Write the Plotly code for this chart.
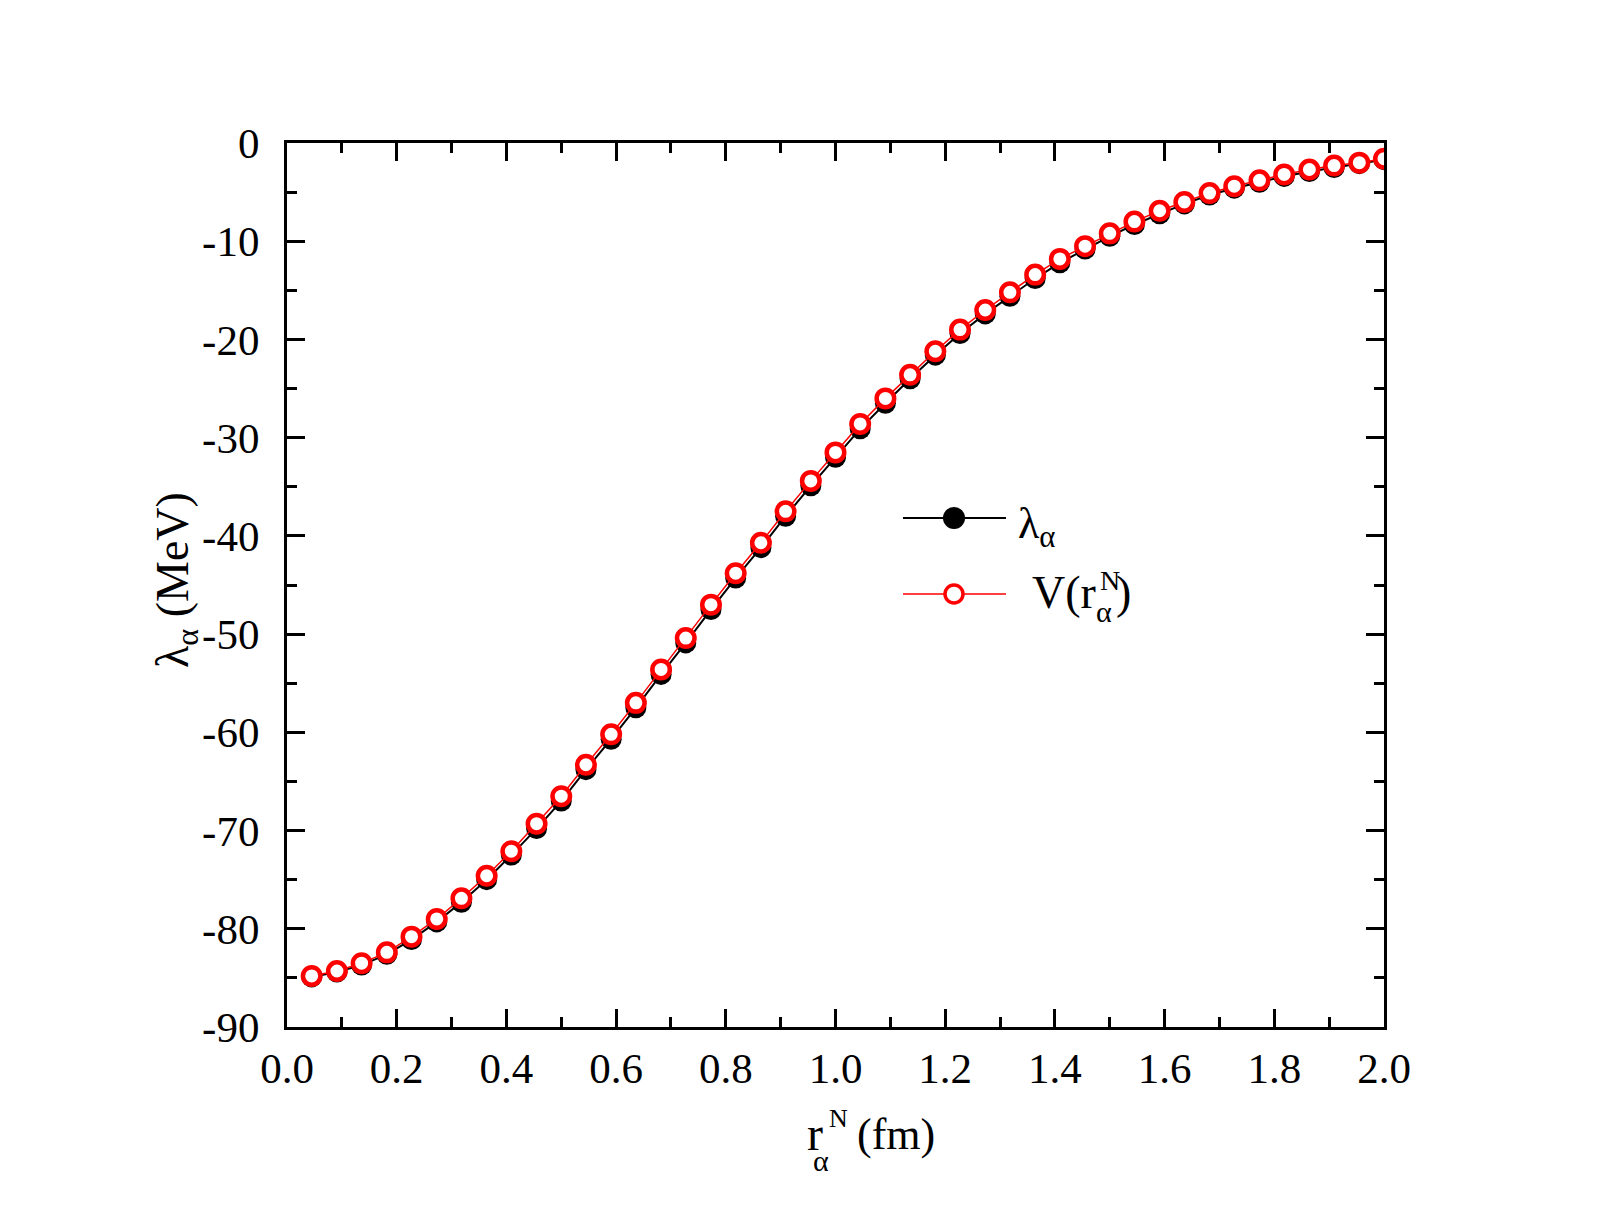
import plotly.graph_objects as go

# ---- data ----
r_alpha = [0.045, 0.091, 0.136, 0.182, 0.227, 0.273, 0.318, 0.364, 0.409, 0.455,
           0.500, 0.545, 0.591, 0.636, 0.682, 0.727, 0.773, 0.818, 0.864, 0.909,
           0.955, 1.000, 1.045, 1.091, 1.136, 1.182, 1.227, 1.273, 1.318, 1.364,
           1.409, 1.455, 1.500, 1.545, 1.591, 1.636, 1.682, 1.727, 1.773, 1.818,
           1.864, 1.909, 1.955, 2.000]
V_r = [-84.8, -84.3, -83.5, -82.4, -80.8, -79.0, -76.9, -74.6, -72.1, -69.3,
       -66.5, -63.3, -60.2, -57.0, -53.6, -50.4, -47.0, -43.8, -40.7, -37.5,
       -34.4, -31.5, -28.6, -26.0, -23.6, -21.2, -19.0, -17.0, -15.2, -13.4,
       -11.8, -10.5, -9.2, -8.0, -6.9, -6.0, -5.1, -4.4, -3.8, -3.2,
       -2.7, -2.3, -2.0, -1.6]
lambda_a = [-84.9, -84.4, -83.7, -82.6, -81.1, -79.3, -77.3, -75.0, -72.5, -69.8,
            -67.0, -63.8, -60.7, -57.5, -54.1, -50.9, -47.5, -44.3, -41.2, -38.0,
            -34.9, -32.0, -29.1, -26.5, -24.0, -21.6, -19.4, -17.4, -15.6, -13.8,
            -12.2, -10.8, -9.5, -8.3, -7.2, -6.2, -5.3, -4.6, -4.0, -3.4,
            -2.9, -2.5, -2.1, -1.7]
x_range = [0, 2]
y_range = [-90, 0]
x_tickvals = [0.0, 0.2, 0.4, 0.6, 0.8, 1.0, 1.2, 1.4, 1.6, 1.8, 2.0]
x_ticktext = ["0.0", "0.2", "0.4", "0.6", "0.8", "1.0", "1.2", "1.4", "1.6", "1.8", "2.0"]
y_tickvals = [0, -10, -20, -30, -40, -50, -60, -70, -80, -90]
y_ticktext = ["0", "-10", "-20", "-30", "-40", "-50", "-60", "-70", "-80", "-90"]

# ---- layout geometry (pixels) ----
W, H = 1609, 1232
L, R, T, B = 287, 1384, 143, 1027
FONT = "Liberation Serif, Times New Roman, serif"


def px(x):
    return (x - L) / (R - L)


def py(y):
    return (B - y) / (B - T)


fig = go.Figure()
fig.add_trace(go.Scatter(
    x=r_alpha, y=lambda_a, mode="lines+markers",
    line=dict(color="black", width=2),
    marker=dict(symbol="circle", size=21, color="black", line=dict(width=0)),
    showlegend=False))
fig.add_trace(go.Scatter(
    x=r_alpha, y=V_r, mode="lines+markers",
    line=dict(color="#ff0000", width=1.5),
    marker=dict(symbol="circle", size=17.5, color="white",
                line=dict(color="#ff0000", width=4.5)),
    showlegend=False))

axis_common = dict(
    showline=True, linecolor="black", linewidth=3, mirror="allticks",
    ticks="inside", ticklen=18, tickwidth=3, tickcolor="black",
    showgrid=False, zeroline=False,
    tickfont=dict(family=FONT, size=43, color="black"),
)
fig.update_xaxes(range=x_range, tickmode="array", tickvals=x_tickvals,
                 ticktext=x_ticktext,
                 minor=dict(ticks="inside", ticklen=10, tickwidth=3,
                            tickcolor="black", dtick=0.1, tick0=0, showgrid=False),
                 ticklabelstandoff=1, **axis_common)
fig.update_yaxes(range=y_range, tickmode="array", tickvals=y_tickvals,
                 ticktext=y_ticktext,
                 minor=dict(ticks="inside", ticklen=10, tickwidth=3,
                            tickcolor="black", dtick=5, tick0=0, showgrid=False),
                 ticklabelstandoff=16, **axis_common)

ann = []


def text(s, x, y, size, xanchor="left", yanchor="middle", angle=0):
    ann.append(dict(text=s, x=px(x), y=py(y), xref="paper", yref="paper",
                    xanchor=xanchor, yanchor=yanchor, showarrow=False,
                    textangle=angle,
                    font=dict(family=FONT, size=size, color="black")))


# x-axis title: r_alpha^N (fm)
text("r", 805, 1133, 48)
text("N", 827, 1118, 26)
text("α", 811, 1160, 30)
text("(fm)", 855, 1134, 44)

# y-axis title
text("λ<sub>α</sub> (MeV)", 176, 580, 46, xanchor="center", angle=-90)

# legend (manual)
shapes = []
leg_rows = [(518, "black", 2, "black", 0, 22), (594, "#ff0000", 1.5, "white", 3.5, 18)]
for yy, col, lw, fill, mlw, ms in leg_rows:
    shapes.append(dict(type="line", xref="paper", yref="paper",
                       x0=px(903), x1=px(1006), y0=py(yy), y1=py(yy),
                       line=dict(color=col, width=lw)))
    shapes.append(dict(type="circle", xref="paper", yref="paper",
                       xsizemode="pixel", ysizemode="pixel",
                       xanchor=px(954), yanchor=py(yy),
                       x0=-ms / 2, x1=ms / 2, y0=-ms / 2, y1=ms / 2,
                       fillcolor=fill,
                       line=dict(color=col, width=mlw if mlw else 0.1)))

text("λ<sub>α</sub>", 1016, 526, 44)
text("V(r", 1030, 592, 46)
text("N", 1098, 580, 28)
text("α", 1094, 611, 30)
text(")", 1114, 592, 46)

fig.update_layout(
    width=W, height=H,
    margin=dict(l=L, r=W - R, t=T, b=H - B, pad=0),
    paper_bgcolor="white", plot_bgcolor="white",
    annotations=ann, shapes=shapes,
    font=dict(family=FONT, color="black"),
)

fig.write_html("out.html")
